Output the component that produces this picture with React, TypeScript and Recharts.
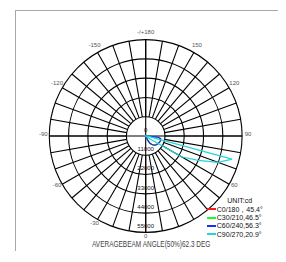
import React from 'react';
import { RadarChart, Radar, PolarGrid, PolarAngleAxis, PolarRadiusAxis, Legend } from 'recharts';

const FONT = "'Liberation Sans Narrow', 'Arial Narrow', 'Liberation Sans', Arial, sans-serif";

const gammaAngles = [
  0, 5, 10, 15, 20, 25, 30, 35, 40, 45, 50, 55,
  60, 65, 70, 75, 80, 85, 90, 95, 100, 105, 110, 115,
  120, 125, 130, 135, 140, 145, 150, 155, 160, 165, 170, 175,
  180, 185, 190, 195, 200, 205, 210, 215, 220, 225, 230, 235,
  240, 245, 250, 255, 260, 265, 270, 275, 280, 285, 290, 295,
  300, 305, 310, 315, 320, 325, 330, 335, 340, 345, 350, 355,
];

const c0Values = [
  0, 0, 0, 0, 500, 2500, 4800, 5800, 6700, 7300, 7800, 8100,
  8300, 8600, 8800, 8900, 8600, 7000, 0, 0, 0, 0, 0, 0,
  0, 0, 0, 0, 0, 0, 0, 0, 0, 0, 0, 0,
  0, 0, 0, 0, 0, 0, 0, 0, 0, 0, 0, 0,
  0, 0, 0, 0, 0, 0, 0, 0, 0, 0, 0, 0,
  0, 0, 0, 0, 0, 0, 0, 0, 0, 0, 0, 0,
];

const c30Values = [
  0, 0, 0, 0, 500, 2500, 4800, 5800, 6700, 7300, 7800, 8100,
  8300, 8600, 8800, 8900, 8600, 7000, 0, 0, 0, 0, 0, 0,
  0, 0, 0, 0, 0, 0, 0, 0, 0, 0, 0, 0,
  0, 0, 0, 0, 0, 0, 0, 0, 0, 0, 0, 0,
  0, 0, 0, 0, 0, 0, 0, 0, 0, 0, 0, 0,
  0, 0, 0, 0, 0, 0, 0, 0, 0, 0, 0, 0,
];

const c60Values = [
  0, 0, 0, 0, 500, 2500, 4800, 5800, 6700, 7300, 7800, 8100,
  8300, 8600, 8800, 8900, 8600, 7000, 0, 0, 0, 0, 0, 0,
  0, 0, 0, 0, 0, 0, 0, 0, 0, 0, 0, 0,
  0, 0, 0, 0, 0, 0, 0, 0, 0, 0, 0, 0,
  0, 0, 0, 0, 0, 0, 0, 0, 0, 0, 0, 0,
  0, 0, 0, 0, 0, 0, 0, 0, 0, 0, 0, 0,
];

const c90Values = [
  0, 0, 0, 0, 0, 0, 0, 0, 0, 0, 500, 3000,
  24000, 33000, 44000, 51000, 1500, 0, 0, 0, 0, 0, 0, 0,
  0, 0, 0, 0, 0, 0, 0, 0, 0, 0, 0, 0,
  0, 0, 0, 0, 0, 0, 0, 0, 0, 0, 0, 0,
  0, 0, 0, 0, 0, 0, 0, 0, 0, 0, 0, 0,
  0, 0, 0, 0, 0, 0, 0, 0, 0, 0, 0, 0,
];

const seriesKeys = ['c0', 'c30', 'c60', 'c90'];
const seriesNames = ['C0/180，45.4°', 'C30/210,46.5°', 'C60/240,56.3°', 'C90/270,20.9°'];
const seriesColors = ['#ff1a1a', '#1aff1a', '#1a2cff', '#22d6d6'];

const angleTicks = [0, 30, 60, 90, 120, 150, 180, 210, 240, 270, 300, 330];
const angleTickLabels = ['0', '', '60', '90', '120', '150', '-/+180', '-150', '-120', '-90', '-60', '-30'];

const radiusTicks = [0, 11000, 22000, 33000, 44000, 55000];
const gridSpokeAngles = [
  0, 10, 20, 30, 40, 50, 60, 70, 80, 90, 100, 110,
  120, 130, 140, 150, 160, 170, 180, 190, 200, 210, 220, 230,
  240, 250, 260, 270, 280, 290, 300, 310, 320, 330, 340, 350,
];
const crossAngles = [0, 90, 180, 270];

const unitLabel = 'UNIT:cd';
const titleText = 'AVERAGEBEAM ANGLE(50%)62.3 DEG';

const rows = gammaAngles.map((a, i) => ({
  angle: a,
  c0: c0Values[i],
  c30: c30Values[i],
  c60: c60Values[i],
  c90: c90Values[i],
}));

const W = 278;
const H = 254;
const CX = 137.7;
const CY = 128;
const OUTER = 96.4;
const INNER = 19.3;

const AngleTick = (props: any) => {
  const { x, y, payload } = props;
  const idx = angleTicks.indexOf(payload.value);
  const label = idx >= 0 ? angleTickLabels[idx] : '';
  if (!label) return null;
  return (
    <text x={x} y={y - 2} textAnchor="middle" dominantBaseline="central" fontSize={6} fill="#555" fontFamily={FONT}>
      {label}
    </text>
  );
};

const RadiusTick = (props: any) => {
  const { x, y, payload } = props;
  return (
    <text x={x} y={y - 4.3} textAnchor="middle" fontSize={6} fill="#111" fontFamily={FONT}>
      {String(payload.value)}
    </text>
  );
};

const LegendContent = (props: any) => {
  const payload = props.payload || [];
  return (
    <div style={{ fontFamily: FONT, fontSize: 7, color: '#111', lineHeight: 1 }}>
      <div style={{ height: 10, display: 'flex', alignItems: 'center', paddingLeft: 20 }}>{unitLabel}</div>
      {payload.map((e: any, i: number) => (
        <div key={i} style={{ height: 8.4, display: 'flex', alignItems: 'center' }}>
          <span style={{ display: 'inline-block', width: 9, height: 2, background: e.color, marginRight: 0.5 }} />
          <span style={{ whiteSpace: 'nowrap' }}>{e.value}</span>
        </div>
      ))}
    </div>
  );
};

export default function App() {
  return (
    <div style={{ position: 'relative', width: W, height: H, overflow: 'hidden', background: '#fff' }}>
      <div
        style={{
          position: 'absolute',
          left: 7,
          top: 2,
          width: 270,
          height: 240,
          borderTop: '1px solid #a8a8a8',
          borderLeft: '1px solid #a8a8a8',
        }}
      />
      <div style={{ position: 'absolute', left: 0, top: 0 }}>
        <RadarChart
          width={W}
          height={H}
          cx={CX}
          cy={CY}
          innerRadius={INNER}
          outerRadius={OUTER}
          startAngle={-90}
          endAngle={270}
          data={rows}
          margin={{ top: 0, right: 0, bottom: 0, left: 0 }}
        >
          <PolarGrid gridType="circle" polarAngles={gridSpokeAngles} polarRadius={[]} stroke="#000" strokeWidth={1.1} strokeOpacity={1} />
        </RadarChart>
      </div>
      <div style={{ position: 'absolute', left: 0, top: 0 }}>
        <RadarChart
          width={W}
          height={H}
          cx={CX}
          cy={CY}
          innerRadius={0}
          outerRadius={OUTER}
          startAngle={-90}
          endAngle={270}
          data={rows}
          margin={{ top: 0, right: 0, bottom: 0, left: 0 }}
        >
          <PolarGrid gridType="circle" polarAngles={crossAngles} stroke="#000" strokeWidth={1.1} strokeOpacity={1} />
          <PolarAngleAxis
            dataKey="angle"
            type="number"
            domain={[0, 360]}
            ticks={angleTicks as any}
            tick={<AngleTick />}
            tickLine={false}
            axisLine={false}
            tickSize={6}
          />
          <PolarRadiusAxis
            angle={-90}
            type="number"
            domain={[0, 55000]}
            ticks={radiusTicks as any}
            tick={<RadiusTick />}
            tickLine={false}
            axisLine={false}
          />
          {seriesKeys.map((k, i) => (
            <Radar
              key={k}
              name={seriesNames[i]}
              dataKey={k}
              stroke={seriesColors[i]}
              strokeWidth={1.2}
              fill="none"
              fillOpacity={0}
              dot={false}
              isAnimationActive={false}
            />
          ))}
          <Legend
            layout="vertical"
            align="center"
            verticalAlign="middle"
            content={<LegendContent />}
            wrapperStyle={{ left: 199.3, top: 187, width: 80, height: 44 }}
          />
        </RadarChart>
      </div>
      <div
        style={{
          position: 'absolute',
          left: 142.8,
          top: 232.7,
          width: 0,
          height: 7.2,
          display: 'flex',
          justifyContent: 'center',
          overflow: 'visible',
        }}
      >
        <span
          style={{
            display: 'inline-block',
            fontFamily: FONT,
            fontSize: 9,
            lineHeight: 0.8,
            color: '#444',
            whiteSpace: 'nowrap',
            transform: 'scaleX(0.72)',
          }}
        >
          {titleText}
        </span>
      </div>
    </div>
  );
}
